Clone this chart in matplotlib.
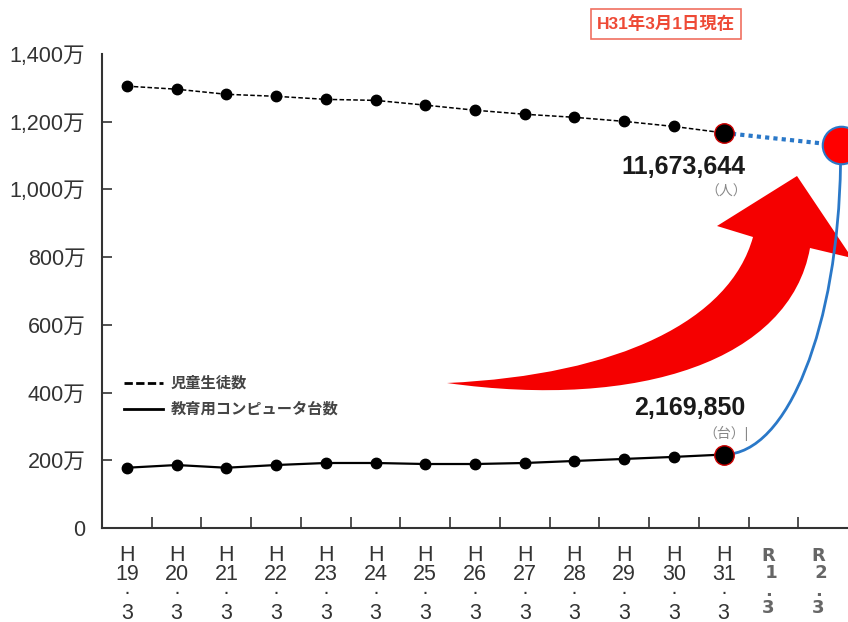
import matplotlib.pyplot as plt
import matplotlib.transforms as mtransforms
from matplotlib.lines import Line2D
from matplotlib.path import Path
from matplotlib.patches import PathPatch
import numpy as np

plt.rcParams['font.family'] = ['Liberation Sans', 'Noto Sans CJK JP', 'DejaVu Sans']

# データ（単位：万）
years = ['H\n19\n·\n3', 'H\n20\n·\n3', 'H\n21\n·\n3', 'H\n22\n·\n3', 'H\n23\n·\n3',
         'H\n24\n·\n3', 'H\n25\n·\n3', 'H\n26\n·\n3', 'H\n27\n·\n3', 'H\n28\n·\n3',
         'H\n29\n·\n3', 'H\n30\n·\n3', 'H\n31\n·\n3', 'R\n 1\n.\n3', 'R\n 2\n.\n3']
students = [1305, 1296, 1281, 1275, 1266, 1263, 1249, 1234, 1222, 1213, 1201, 1186, 1167]
computers = [178, 186, 178, 186, 192, 192, 189, 189, 192, 198, 204, 210, 217]
student_total = '11,673,644'
computer_total = '2,169,850'
target_x, target_y = 14.35, 1130   # R2目標（1人1台）
yticks = [0, 200, 400, 600, 800, 1000, 1200, 1400]

W, H = 848, 622
fig = plt.figure(figsize=(W / 100, H / 100), dpi=100)
ax = fig.add_axes([102 / W, 1 - 528 / H, 1 - 102 / W, (528 - 54) / H])

# 画素座標(左上原点) -> 図座標
pix = mtransforms.Affine2D().scale(1 / W, -1 / H).translate(0, 1) + fig.transFigure

def px(x, y):
    return x / W, 1 - y / H

x = np.arange(len(students))
ax.plot(x, students, color='black', lw=1.1, ls=(0, (3, 1.5)), marker='o', ms=7.5, zorder=3)
ax.plot(x, computers, color='black', lw=1.6, marker='o', ms=7.5, zorder=3)
ax.plot(x[-1], students[-1], 'o', color='black', mec='#cc0000', mew=1, ms=14, zorder=5)
ax.plot(x[-1], computers[-1], 'o', color='black', mec='#cc0000', mew=1, ms=14, zorder=5)

# 青い点線と曲線
blue = '#2a78c8'
ax.plot([x[-1], target_x], [students[-1], target_y], color=blue, lw=3,
        ls=(0, (1, 1)), dash_capstyle='butt', zorder=4, clip_on=False)
curve = Path([(x[-1], computers[-1]), (13.3, computers[-1]), (14.3, 600), (target_x, target_y - 56)],
             [Path.MOVETO, Path.CURVE4, Path.CURVE4, Path.CURVE4])
ax.add_patch(PathPatch(curve, fc='none', ec=blue, lw=2, zorder=4, clip_on=False))
ax.plot(target_x, target_y, 'o', color='#ff0000', mec=blue, mew=1.5, ms=27, zorder=6, clip_on=False)

# 赤い矢印
arrow = Path([(447, 383), (620, 375), (730, 320), (753, 237),
              (717, 226), (797, 176), (852, 258), (810, 248),
              (790, 360), (640, 410), (447, 383), (447, 383)],
             [Path.MOVETO, Path.CURVE4, Path.CURVE4, Path.CURVE4,
              Path.LINETO, Path.LINETO, Path.LINETO, Path.LINETO,
              Path.CURVE4, Path.CURVE4, Path.CURVE4, Path.CLOSEPOLY])
ax.add_patch(PathPatch(arrow, fc='#f50000', ec='none', transform=pix, clip_on=False, zorder=2))

# 軸
ax.set_xlim(-0.5, 14.5)
ax.set_ylim(0, 1400)
for s in ['top', 'right']:
    ax.spines[s].set_visible(False)
for s in ['left', 'bottom']:
    ax.spines[s].set_linewidth(1.5)
    ax.spines[s].set_color('#333333')

ax.set_yticks(yticks)
ax.set_yticklabels(['0' if v == 0 else f'{v:,}万' for v in yticks], fontsize=15.5, color='#333333')
ax.tick_params(axis='y', direction='in', length=7, width=1.2, pad=12, color='#333333')
ax.yaxis.get_major_ticks()[-1].tick1line.set_visible(False)

n_h = len(years) - 2
ax.set_xticks(range(n_h))
ax.set_xticklabels(years[:n_h], fontsize=15.5, color='#333333', linespacing=0.9)
ax.set_xticks(np.arange(0.5, 14.5, 1), minor=True)
ax.tick_params(axis='x', which='major', length=0, pad=12)
ax.tick_params(axis='x', which='minor', direction='in', length=8, width=1.2, color='#333333')
xlab = mtransforms.blended_transform_factory(ax.transData, fig.transFigure)
for i in range(n_h, len(years)):
    ax.text(i - 0.1, 1 - 547 / H, years[i], transform=xlab, ha='center', va='top',
            fontsize=13, fontweight='bold', family='DejaVu Sans', color='#666666',
            linespacing=0.95, clip_on=False)

# 凡例
handles = [Line2D([], [], color='black', lw=2, ls=(0, (3, 1.2))),
           Line2D([], [], color='black', lw=2)]
fig.legend(handles, ['児童生徒数', '教育用コンピュータ台数'], loc='upper left',
           bbox_to_anchor=px(116, 369), frameon=False, handlelength=2.6, handletextpad=0.5,
           labelspacing=0.75, borderpad=0, prop={'size': 11, 'weight': 'bold'}, labelcolor='#444444')

# 注記
fig.text(*px(745, 167), student_total, ha='right', va='center', fontsize=18,
         fontweight='bold', color='#1a1a1a')
fig.text(*px(747, 192), '（人）', ha='right', va='center', fontsize=10, color='#888888')
fig.text(*px(745, 408), computer_total, ha='right', va='center', fontsize=18,
         fontweight='bold', color='#1a1a1a')
fig.text(*px(749, 433), '（台）|', ha='right', va='center', fontsize=10, color='#888888')

fig.text(*px(666, 24), 'H31年3月1日現在', ha='center', va='center', fontsize=12.5,
         color='#ee4a36', fontweight='bold',
         bbox=dict(boxstyle='square,pad=0.35', fc='white', ec='#f07060', lw=1.2))

fig.savefig('out.png', dpi=100)
